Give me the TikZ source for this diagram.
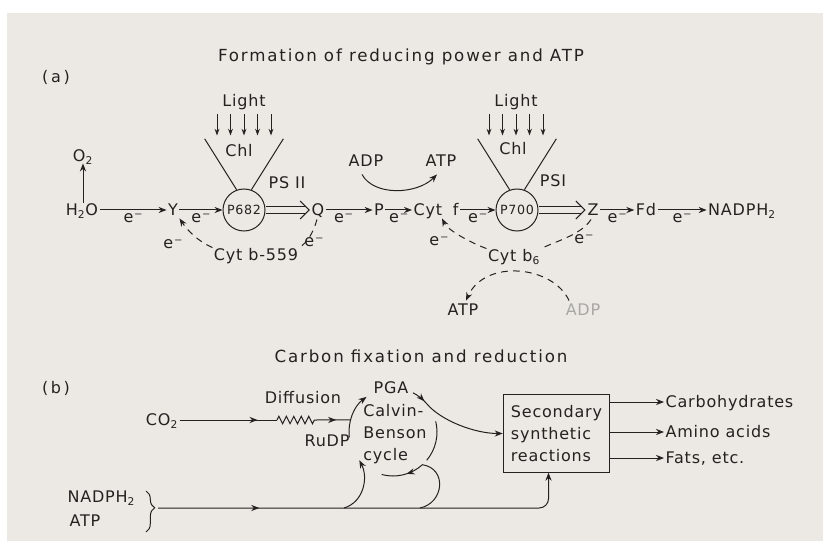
\documentclass[tikz,border=0pt]{standalone}
\usepackage{fontspec}
\setmainfont{DejaVu Sans}[LetterSpace=5]
\usetikzlibrary{arrows.meta,calc,decorations.pathmorphing,decorations.pathreplacing,decorations.markings}
\definecolor{paper}{RGB}{236,233,228}
\definecolor{ink}{RGB}{36,34,32}
\begin{document}
\begin{tikzpicture}[x=0.75pt,y=0.75pt,
  every node/.style={text=ink,font=\fontsize{12}{14}\selectfont},
  lab/.style={inner sep=1pt,text height=8.8pt,text depth=0pt},
  ttl/.style={lab,font=\fontsize{12.5}{14}\selectfont\addfontfeatures{LetterSpace=11}},
  el/.style={lab,yshift=-5pt},
  ln/.style={draw=ink,line width=0.75pt},
  endtip/.style={-{Stealth[length=6pt,width=4.6pt]}},
  arr/.style={ln,endtip},
  dsh/.style={ln,dash pattern=on 5pt off 4pt},
  circ/.style={draw=ink,line width=0.75pt,circle,inner sep=0pt,minimum size=31.5pt,font=\fontsize{9.5}{10}\selectfont},
  midarr/.style={postaction={decorate},decoration={markings,mark=at position #1 with {\arrow{Stealth[length=6pt,width=4.6pt]}}}},
]
\useasboundingbox (0,0) rectangle (823,-541);
\fill[white] (0,0) rectangle (823,-541);
\fill[paper] (7,-13) rectangle (823,-541);

% ---------- part (a)
\node[ttl] (titleA) at (401,-56) {Formation of reducing power and ATP};
\node[lab] (partA) at (56,-77) {(\,a\,)};

\node[lab] (light1) at (244,-101) {Light};
\node[lab] (light2) at (516,-101) {Light};
\foreach \d in {-27,-13.5,0,13.5,27} {
  \draw[ln,-{Stealth[length=5pt,width=3.6pt]}] ($(light1.south)+(\d,-6)$) -- ++(0,-21);
  \draw[ln,-{Stealth[length=5pt,width=3.6pt]}] ($(light2.south)+(\d,-6)$) -- ++(0,-21);
}
\node[lab] (chl1) at (239,-151) {Chl};
\node[lab] (chl2) at (513,-149) {Chl};

\node[lab] (h2o) at (82,-210) {H\textsubscript{2}O};
\node[lab] (o2) at (83,-156) {O\textsubscript{2}};
\node[lab] (Y) at (173,-210) {Y};
\node[circ] (p682) at (244,-210) {P682};
\node[lab] (Q) at (318,-210) {Q};
\node[lab] (P) at (379,-210) {P};
\node[lab] (cytf) at (436,-210) {Cyt\hspace{8pt}f};
\node[circ] (p700) at (517,-210) {P700};
\node[lab] (Z) at (593,-210) {Z};
\node[lab] (Fd) at (646,-210) {Fd};
\node[lab] (nadph) at (742,-210) {NADPH\textsubscript{2}};

\draw[ln] (p682.110) -- ++(-32,51);
\draw[ln] (p682.70) -- ++(32,51);
\draw[ln] (p700.110) -- ++(-32,51);
\draw[ln] (p700.70) -- ++(32,51);

\node[lab] (pstwo) at (287,-183) {PS II};
\node[lab] (psone) at (553,-181) {PSI};

\draw[arr] (o2.south |- h2o.north) -- (o2.south);
\draw[arr] (h2o) -- node[el] (e1) {e⁻} (Y);
\draw[arr] (Y) -- node[el] (e2) {e⁻} (p682);
\draw[arr] (Q) -- node[el,pos=0.38] (e3) {e⁻} (P);
\draw[arr] (P) -- node[el] (e4) {e⁻} (cytf);
\draw[arr] (cytf) -- node[el] (e5) {e⁻} (p700);
\draw[arr] (Z) -- node[el] (e6) {e⁻} (Fd);
\draw[arr] (Fd) -- node[el] (e7) {e⁻} (nadph);

% double arrows
\draw[ln] ($(p682.east)+(0,3.5)$) -- ($(Q.west)+(-5,3.5)$);
\draw[ln] ($(p682.east)+(0,-3.5)$) -- ($(Q.west)+(-5,-3.5)$);
\draw[ln] ($(Q.west)+(-10,9)$) -- ($(Q.west)+(-1,0)$) -- ($(Q.west)+(-10,-9)$);
\draw[ln] ($(p700.east)+(0,3.5)$) -- ($(Z.west)+(-5,3.5)$);
\draw[ln] ($(p700.east)+(0,-3.5)$) -- ($(Z.west)+(-5,-3.5)$);
\draw[ln] ($(Z.west)+(-10,9)$) -- ($(Z.west)+(-1,0)$) -- ($(Z.west)+(-10,-9)$);

% ADP -> ATP
\node[lab] (adp1) at (366,-161) {ADP};
\node[lab] (atp1) at (441,-161) {ATP};
\draw[arr] ($(adp1.south)+(-4,-6)$) .. controls +(12,-22) and +(-20,-20) .. ($(atp1.south)+(-4,-6)$);

% Cyt b-559 cycle
\node[lab] (cytb) at (256,-255) {Cyt b-559};
\draw[dsh] ($(Q.south)+(-1,-2)$) .. controls +(-4,-14) and +(8,6) .. (cytb.north east);
\draw[dsh,endtip] (cytb.north west) .. controls +(-14,6) and +(8,-12) .. ($(Y.south east)+(0,-1)$);
\node[lab] (e8) at (173,-243) {e⁻};
\node[lab] (e9) at (314,-241) {e⁻};

% Cyt b6 cycle
\node[lab] (cytb6) at (514,-256) {Cyt b\textsubscript{6}};
\draw[dsh] ($(Z.south)+(-2,-2)$) .. controls +(-10,-16) and +(10,6) .. (cytb6.north east);
\draw[dsh,endtip] (cytb6.north west) .. controls +(-16,6) and +(6,-12) .. ($(cytf.south)+(6,-1)$);
\node[lab] (e10) at (439,-240) {e⁻};
\node[lab] (e11) at (584,-238) {e⁻};

\node[lab] (atp2) at (463,-310) {ATP};
\node[lab,text=ink!40] (adp2) at (583,-310) {ADP};
\draw[dsh,endtip] ($(adp2.north)+(-14,2)$) .. controls +(-16,35) and +(19,42) .. ($(atp2.north)+(3,2)$);

% ---------- part (b)
\node[ttl] (titleB) at (421,-357) {Carbon fixation and reduction};
\node[lab] (partB) at (56,-388) {(\,b\,)};

\node[lab] (co2) at (162,-420) {CO\textsubscript{2}};
\node[lab] (diff) at (303,-398) {Diffusion};
\coordinate (C) at (393,-432);
\node[lab] (pga) at (391,-388) {PGA};
\node[lab] (rudp) at (327,-441) {RuDP};
\node[align=left,inner sep=0pt,font=\fontsize{12}{16.5}\selectfont] (calvin) at (395,-434) {Calvin-\\Benson\\cycle};

\node[draw=ink,line width=0.75pt,align=left,minimum width=80pt,minimum height=58pt,inner sep=0pt,font=\fontsize{12}{16.5}\selectfont] (sec) at (556.5,-433.5) {Secondary\\synthetic\\reactions};

\node[lab,anchor=west] (carb) at (664,-402) {Carbohydrates};
\node[lab,anchor=west] (amino) at (664,-432) {Amino acids};
\node[lab,anchor=west] (fats) at (664,-458) {Fats, etc.};
\draw[arr] (sec.east |- carb.west) -- (carb.west);
\draw[arr] (sec.east |- amino.west) -- (amino.west);
\draw[arr] (sec.east |- fats.west) -- (fats.west);

% CO2 diffusion
\coordinate (z1) at (277,-420);
\coordinate (z2) at (316,-420);
\coordinate (cj) at ($(C)+(164:44)$);
\draw[ln,midarr=0.8] (co2.east) -- (z1);
\draw[ln,decorate,decoration={zigzag,segment length=5.6pt,amplitude=2.8pt}] (z1) -- (z2);
\draw[ln,midarr=0.58] (z2) -- (cj);

% Calvin cycle arcs
\draw[arr] ($(C)+(187:44)$) arc[start angle=187,end angle=127,radius=44];
\draw[arr,midarr=0.14] ($(C)+(63:44)$) arc[start angle=63,end angle=40,radius=44] .. controls +(-50:22) and +(-28,0) .. (sec.west);
\draw[ln] ($(C)+(14:44)$) arc[start angle=14,end angle=-40,radius=44];

% NADPH2 / ATP supply
\node[lab,anchor=west] (nadb) at (66,-497) {NADPH\textsubscript{2}};
\node[lab,anchor=west] (atpb) at (68,-521) {ATP};
\draw[ln,decorate,decoration={brace,amplitude=6.5pt,aspect=0.41}] (146,-491) -- (146,-532);
\coordinate (bt) at (158,-508);
\coordinate (sb) at ($(sec.south)+(-8,0)$);
\draw[arr,rounded corners=7pt,midarr=0.24] (bt) -- (sb |- bt) -- (sb);
\coordinate (j1) at (344,-508);
\coordinate (j2) at (420,-508);
\draw[arr] (j1) .. controls +(20,6) and +(9,-17) .. ($(C)+(-140:44)$);
\draw[ln,midarr=0.76] (j2) .. controls +(24,5) and +(25,-4) .. ($(C)+(-48:44)$) arc[start angle=-48,end angle=-105,radius=44];
\end{tikzpicture}
\end{document}
